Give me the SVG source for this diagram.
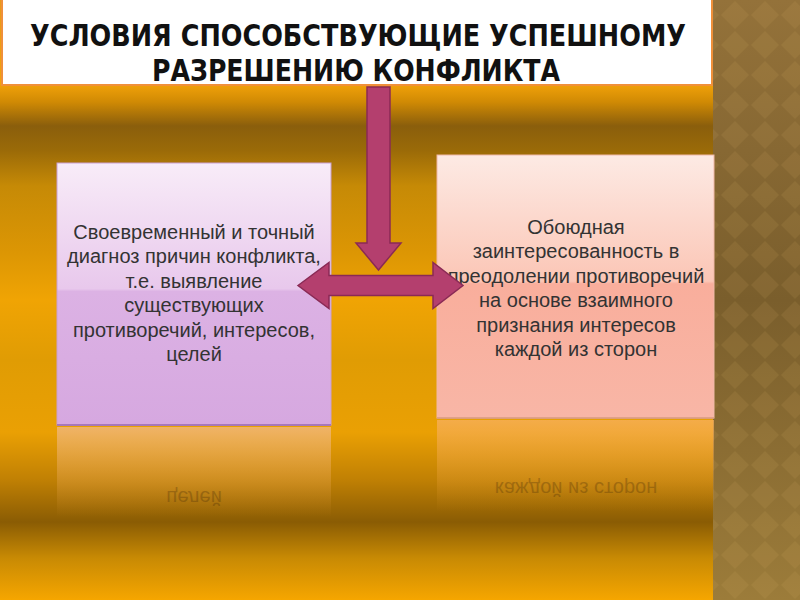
<svg xmlns="http://www.w3.org/2000/svg" width="800" height="600" viewBox="0 0 800 600">
  <defs>
    <style>
      .title { font-family: "DejaVu Sans Condensed", "DejaVu Sans", "Liberation Sans", sans-serif; font-weight: bold; font-size: 31px; fill: #111; text-anchor: middle; }
      .body { font-family: "Liberation Sans", Arial, sans-serif; font-size: 20px; fill: #333; text-anchor: middle; }
      .refl { font-family: "Liberation Sans", Arial, sans-serif; font-size: 20px; fill: #4a2e08; opacity: 0.3; text-anchor: middle; }
      .arrow { fill: #b43f6e; stroke: #8a2a55; stroke-width: 1.5; stroke-linejoin: miter; }
    </style>
    <linearGradient id="bg" x1="0" y1="0" x2="0" y2="1">
      <stop offset="0" stop-color="#e99a18"/>
      <stop offset="0.14" stop-color="#f2a20a"/>
      <stop offset="0.17" stop-color="#d08a04"/>
      <stop offset="0.21" stop-color="#8a5e0c"/>
      <stop offset="0.25" stop-color="#9a6a08"/>
      <stop offset="0.31" stop-color="#c68a06"/>
      <stop offset="0.42" stop-color="#dc9604"/>
      <stop offset="0.50" stop-color="#f0a404"/>
      <stop offset="0.60" stop-color="#e09c04"/>
      <stop offset="0.72" stop-color="#eaa004"/>
      <stop offset="0.80" stop-color="#c08004"/>
      <stop offset="0.87" stop-color="#8a5c04"/>
      <stop offset="0.93" stop-color="#c88a04"/>
      <stop offset="1" stop-color="#f6a600"/>
    </linearGradient>
    <linearGradient id="strip" x1="0" y1="0" x2="0" y2="1">
      <stop offset="0" stop-color="#94723a"/>
      <stop offset="0.5" stop-color="#7a5e2c"/>
      <stop offset="1" stop-color="#9c7c3a"/>
    </linearGradient>
    <pattern id="diam" width="30" height="30" patternUnits="userSpaceOnUse">
      <path d="M15 1 L29 15 L15 29 L1 15 Z" fill="#d8b060" opacity="0.12"/>
    </pattern>
    <linearGradient id="lgL" x1="0" y1="0" x2="0" y2="1">
      <stop offset="0" stop-color="#f8ecf8"/>
      <stop offset="0.48" stop-color="#e8c8ec"/>
      <stop offset="0.49" stop-color="#dcb2e4"/>
      <stop offset="1" stop-color="#d6a8e0"/>
    </linearGradient>
    <linearGradient id="lgR" x1="0" y1="0" x2="0" y2="1">
      <stop offset="0" stop-color="#fdeae4"/>
      <stop offset="0.48" stop-color="#fbc6b6"/>
      <stop offset="0.49" stop-color="#f9ae9c"/>
      <stop offset="1" stop-color="#f8b6a6"/>
    </linearGradient>
    <linearGradient id="reflL" x1="0" y1="0" x2="0" y2="1">
      <stop offset="0" stop-color="#f0b880" stop-opacity="0.8"/>
      <stop offset="1" stop-color="#e8a040" stop-opacity="0"/>
    </linearGradient>
    <linearGradient id="reflR" x1="0" y1="0" x2="0" y2="1">
      <stop offset="0" stop-color="#f8b060" stop-opacity="0.75"/>
      <stop offset="1" stop-color="#eca030" stop-opacity="0"/>
    </linearGradient>
  </defs>

  <!-- background -->
  <rect x="0" y="0" width="714" height="600" fill="url(#bg)"/>
  <rect x="713" y="0" width="87" height="600" fill="url(#strip)"/>
  <rect x="713" y="0" width="87" height="600" fill="url(#diam)"/>

  <!-- reflections -->
  <rect x="57" y="427" width="274" height="90" fill="url(#reflL)"/>
  <rect x="437" y="420" width="277" height="92" fill="url(#reflR)"/>
  <text class="refl" x="194" y="361" transform="translate(0,852) scale(1,-1)">целей</text>
  <text class="refl" x="576" y="356" transform="translate(0,838) scale(1,-1)">каждой из сторон</text>

  <!-- title -->
  <g id="title">
    <rect x="2" y="-2" width="710" height="87" fill="#ffffff" stroke="#f0903a" stroke-width="2"/>
    <text class="title" x="358" y="46" textLength="656" lengthAdjust="spacingAndGlyphs">УСЛОВИЯ СПОСОБСТВУЮЩИЕ УСПЕШНОМУ</text>
    <text class="title" x="356" y="81" textLength="408" lengthAdjust="spacingAndGlyphs">РАЗРЕШЕНИЮ КОНФЛИКТА</text>
  </g>

  <!-- left box -->
  <g id="box-left">
    <rect x="57" y="163" width="274" height="262" fill="url(#lgL)" stroke="#c9a0d2" stroke-width="1"/>
    <line x1="57" y1="425" x2="331" y2="425" stroke="#a878b8" stroke-width="2"/>
    <text class="body" x="194" y="239">Своевременный и точный</text>
    <text class="body" x="194" y="263">диагноз причин конфликта,</text>
    <text class="body" x="194" y="288">т.е. выявление</text>
    <text class="body" x="194" y="312">существующих</text>
    <text class="body" x="194" y="337">противоречий, интересов,</text>
    <text class="body" x="194" y="361">целей</text>
  </g>

  <!-- right box -->
  <g id="box-right">
    <rect x="437" y="155" width="277" height="263" fill="url(#lgR)" stroke="#f0b8a8" stroke-width="1"/>
    <line x1="437" y1="418" x2="714" y2="418" stroke="#d89a80" stroke-width="1.5"/>
    <text class="body" x="576" y="234">Обоюдная</text>
    <text class="body" x="576" y="258">заинтересованность в</text>
    <text class="body" x="576" y="283">преодолении противоречий</text>
    <text class="body" x="576" y="307">на основе взаимного</text>
    <text class="body" x="576" y="332">признания интересов</text>
    <text class="body" x="576" y="356">каждой из сторон</text>
  </g>

  <!-- connectors -->
  <g id="connectors">
    <polygon class="arrow" points="367,87 390,87 390,243 401,243 378.5,270 356,243 367,243"/>
    <polygon class="arrow" points="298,285.5 329,262.5 329,275.5 433,275.5 433,262.5 463,285.5 433,308.5 433,295.5 329,295.5 329,308.5"/>
  </g>
</svg>
